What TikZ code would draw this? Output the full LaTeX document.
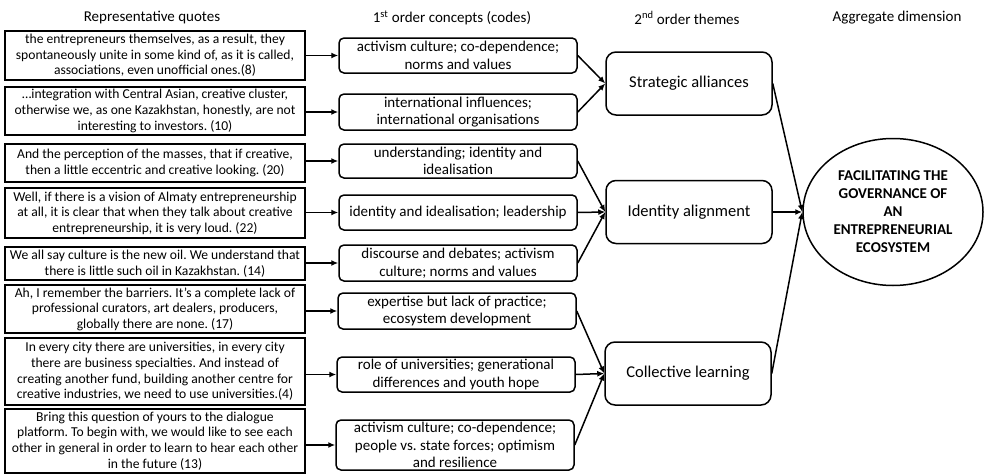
\documentclass[tikz,border=0pt]{standalone}
\usepackage{fontspec}
\setmainfont{Carlito}
\usetikzlibrary{arrows.meta,shapes.geometric}
\frenchspacing
\begin{document}
\begin{tikzpicture}[x=1pt,y=-1pt,
 quote/.style={draw, line width=1.8pt, minimum width=300pt, align=center, inner sep=0pt, font=\fontsize{13.6}{15.6}\selectfont},
 code/.style={draw, rounded corners=5pt, line width=1.5pt, minimum width=238pt, align=center, inner sep=0pt, font=\fontsize{15}{17.6}\selectfont},
 theme/.style={draw, rounded corners=10pt, line width=1.5pt, minimum width=166pt, minimum height=63pt, inner sep=0pt, font=\fontsize{16.5}{19}\selectfont},
 agg/.style={draw, ellipse, line width=1.5pt, minimum width=180pt, minimum height=147pt, inner sep=0pt, align=center, font=\bfseries\fontsize{15}{18}\selectfont},
 arr/.style={-{Latex[length=7pt,width=6pt]}, line width=1.5pt},
 head/.style={font=\fontsize{15}{17}\selectfont}]
\useasboundingbox (0,0) rectangle (985,474);
% headers
\node[head] (h1) at (152,18) {Representative quotes};
\node[head] (h2) at (452,18) {1\textsuperscript{st} order concepts (codes)};
\node[head] (h3) at (687,18) {2\textsuperscript{nd} order themes};
\node[head] (h4) at (897,18) {Aggregate dimension};
% quotes
\node[quote, minimum height=49pt] (q1) at (155,55.5) {the entrepreneurs themselves, as a result, they\\ spontaneously unite in some kind of, as it is called,\\ associations, even unofficial ones.(8)};
\node[quote, minimum height=48pt] (q2) at (155,111) {\dots integration with Central Asian, creative cluster,\\ otherwise we, as one Kazakhstan, honestly, are not\\ interesting to investors. (10)};
\node[quote, minimum height=38pt] (q3) at (155,163) {And the perception of the masses, that if creative,\\ then a little eccentric and creative looking. (20)};
\node[quote, minimum height=50pt] (q4) at (155,213) {Well, if there is a vision of Almaty entrepreneurship\\ at all, it is clear that when they talk about creative\\ entrepreneurship, it is very loud. (22)};
\node[quote, minimum height=33pt] (q5) at (155,263.5) {We all say culture is the new oil. We understand that\\ there is little such oil in Kazakhstan. (14)};
\node[quote, minimum height=48pt] (q6) at (155,309) {Ah, I remember the barriers. It's a complete lack of\\ professional curators, art dealers, producers,\\ globally there are none. (17)};
\node[quote, minimum height=67pt] (q7) at (155,371.5) {In every city there are universities, in every city\\ there are business specialties. And instead of\\ creating another fund, building another centre for\\ creative industries, we need to use universities.(4)};
\node[quote, minimum height=64pt] (q8) at (155,441) {Bring this question of yours to the dialogue\\ platform. To begin with, we would like to see each\\ other in general in order to learn to hear each other\\ in the future (13)};
% codes
\node[code, minimum height=35pt] (c1) at (458,55.5) {activism culture; co-dependence;\\ norms and values};
\node[code, minimum height=36pt] (c2) at (458,112) {international influences;\\ international organisations};
\node[code, minimum height=34pt] (c3) at (458,161) {understanding; identity and\\ idealisation};
\node[code, minimum height=35pt] (c4) at (458,212.5) {identity and idealisation; leadership};
\node[code, minimum height=36pt] (c5) at (458,263) {discourse and debates; activism\\ culture; norms and values};
\node[code, minimum height=36pt] (c6) at (457,311) {expertise but lack of practice;\\ ecosystem development};
\node[code, minimum height=35pt] (c7) at (456,374.5) {role of universities; generational\\ differences and youth hope};
\node[code, minimum height=50pt] (c8) at (455,445) {activism culture; co-dependence;\\ people vs. state forces; optimism\\ and resilience};
% themes
\node[theme] (t1) at (689,83.5) {Strategic alliances};
\node[theme] (t2) at (689,212) {Identity alignment};
\node[theme] (t3) at (688,373.5) {Collective learning};
% aggregate
\node[agg] (a) at (893,212) {FACILITATING THE\\ GOVERNANCE OF\\ AN\\ ENTREPRENEURIAL\\ ECOSYSTEM};
% arrows quotes -> codes
\foreach \i in {1,...,8} {
  \draw[arr] (q\i.east |- c\i.west) -- (c\i.west);
}
% codes -> themes
\foreach \i in {1,2} { \draw[arr] (c\i.east) -- (t1.west); }
\foreach \i in {3,4,5} { \draw[arr] (c\i.east) -- (t2.west); }
\foreach \i in {6,7,8} { \draw[arr] (c\i.east) -- (t3.west); }
% themes -> aggregate
\foreach \i in {1,2,3} { \draw[arr] (t\i.east) -- (a.west); }
\end{tikzpicture}
\end{document}
